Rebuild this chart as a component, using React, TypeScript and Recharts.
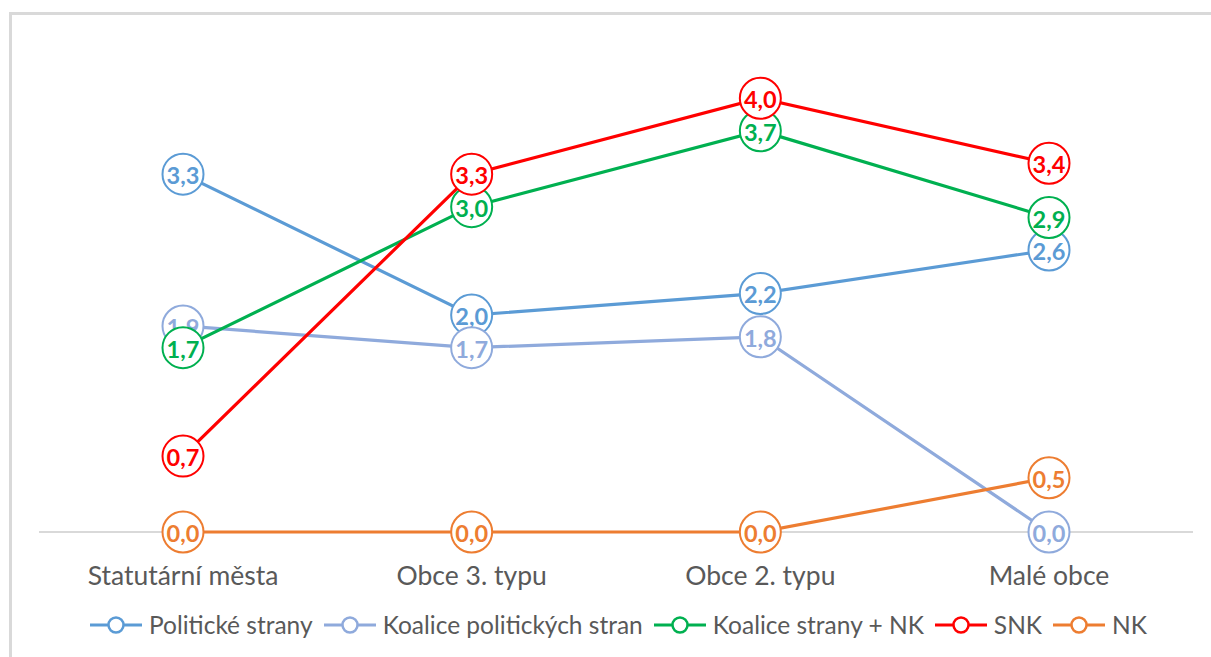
import React from 'react';
import { LineChart, Line, XAxis, YAxis, Legend } from 'recharts';

const categories = ['Statutární města', 'Obce 3. typu', 'Obce 2. typu', 'Malé obce'];
const politickeStrany = [3.3, 2.0, 2.2, 2.6];
const koalicePolitickychStran = [1.9, 1.7, 1.8, 0.0];
const koaliceStranyNK = [1.7, 3.0, 3.7, 2.9];
const snk = [0.7, 3.3, 4.0, 3.4];
const nk = [0.0, 0.0, 0.0, 0.5];

const seriesDefs = [
  { key: 'ps', name: 'Politické strany', color: '#5B9BD5', values: politickeStrany },
  { key: 'kps', name: 'Koalice politických stran', color: '#8FAADC', values: koalicePolitickychStran },
  { key: 'ksnk', name: 'Koalice strany + NK', color: '#00B050', values: koaliceStranyNK },
  { key: 'snk', name: 'SNK', color: '#FF0000', values: snk },
  { key: 'nk', name: 'NK', color: '#ED7D31', values: nk },
];

const data = categories.map((c, i) => {
  const row: Record<string, any> = { cat: c };
  seriesDefs.forEach((s) => { row[s.key] = s.values[i]; });
  return row;
});

const FONT = 'Lato, "Open Sans", sans-serif';
const fmt = (v: number) => v.toFixed(1).replace('.', ',');

const makeDot = (color: string) => (props: any) => {
  const { cx, cy, value, index } = props;
  if (cx == null || cy == null) return <g key={`d-${index}`} />;
  return (
    <g key={`d-${color}-${index}`}>
      <circle cx={cx} cy={cy} r={20.5} fill="#fff" stroke={color} strokeWidth={2} />
      <text x={cx} y={cy + 1} textAnchor="middle" dominantBaseline="central" fill={color}
        fontFamily={FONT} fontWeight={700} fontSize={23.5}>{fmt(value)}</text>
    </g>
  );
};

const Tick = (props: any) => {
  const { x, y, payload } = props;
  return (
    <text x={x} y={y + 35} textAnchor="middle" dominantBaseline="central" fill="#595959"
      fontFamily={FONT} fontSize={26.5}>{payload.value}</text>
  );
};

const LegendContent = () => (
  <div style={{ display: 'flex', justifyContent: 'center', alignItems: 'center', height: 65, paddingLeft: 16, boxSizing: 'border-box', fontFamily: FONT, fontSize: 24.5, color: '#595959' }}>
    {seriesDefs.map((s) => (
      <div key={s.key} style={{ display: 'flex', alignItems: 'center', marginRight: 11 }}>
        <svg width={52} height={20} style={{ marginRight: 7 }}>
          <line x1={0} y1={10} x2={52} y2={10} stroke={s.color} strokeWidth={3} />
          <circle cx={26} cy={10} r={7.5} fill="#fff" stroke={s.color} strokeWidth={2.5} />
        </svg>
        <span>{s.name}</span>
      </div>
    ))}
  </div>
);

export default function App() {
  return (
    <div style={{ position: 'absolute', left: 0, top: 0, width: 1211, height: 657, background: '#fff' }}>
      <div style={{ position: 'absolute', left: 9, top: 12, width: 1202, height: 3, background: '#d9d9d9' }} />
      <div style={{ position: 'absolute', left: 9, top: 12, width: 3, height: 645, background: '#d9d9d9' }} />
      <LineChart width={1211} height={657} data={data} margin={{ top: 44, right: 18, bottom: 0, left: 39 }}>
        <XAxis dataKey="cat" axisLine={{ stroke: '#d9d9d9', strokeWidth: 2 }} tickLine={false} tick={<Tick />} height={60} interval={0} padding={{ left: 144, right: 144 }} zIndex={-1} />
        <YAxis domain={[0, 4.5]} hide />
        <Legend verticalAlign="bottom" content={<LegendContent />} wrapperStyle={{ height: 65 }} />
        {seriesDefs.map((s) => (
          <Line key={s.key} dataKey={s.key} name={s.name} stroke={s.color} strokeWidth={3.2}
            dot={makeDot(s.color)} activeDot={false} isAnimationActive={false} type="linear" />
        ))}
      </LineChart>
    </div>
  );
}
